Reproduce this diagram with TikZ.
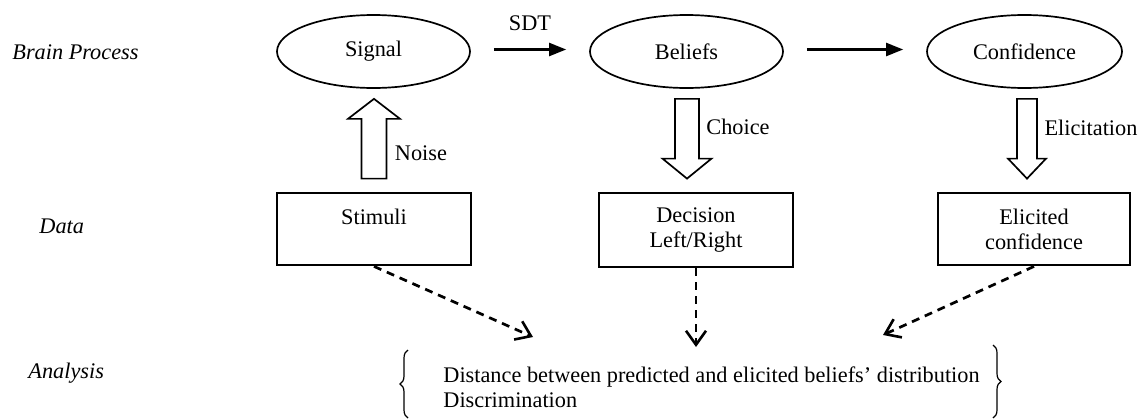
\documentclass[tikz,border=0pt]{standalone}
\usepackage{fontspec}
\setmainfont{Liberation Serif}
\usetikzlibrary{arrows.meta,calc,decorations.pathreplacing,shapes.geometric}
\begin{document}
\begin{tikzpicture}[x=0.5pt,y=-0.5pt,
  every node/.style={font=\fontsize{11.15}{12.5}\selectfont, inner sep=0pt},
  proc/.style={draw, ellipse, line width=0.85pt, minimum width=96.5pt, minimum height=36.5pt},
  databox/.style={draw, rectangle, line width=1.4pt, minimum width=97pt, minimum height=36pt, align=center},
  rowlabel/.style={anchor=west, font=\fontsize{11.15}{12.5}\selectfont\itshape},
  solidarrow/.style={line width=1.1pt, -{Triangle[length=8.5pt,width=6.5pt]}, shorten <=11.5pt, shorten >=11.5pt},
  dasharrow/.style={line width=1.35pt, dash pattern=on 4pt off 3pt, -{Straight Barb[length=7pt,width=10pt,line width=1.3pt]}},
  blk/.style={draw, line width=0.85pt, fill=white, line join=miter},
  brc/.style={decorate, decoration={brace, amplitude=4pt}, line width=0.6pt}
]
\useasboundingbox (0,0) rectangle (1141,418);

% row labels
\node[rowlabel] (lbrain) at (12,52) {Brain Process};
\node[rowlabel] (ldata) at (39,226) {Data};
\node[rowlabel] (lana) at (28,373) {Analysis};

% brain process
\node[proc] (sig) at (373.5,51.5) {Signal};
\node[proc] (bel) at (686.5,51.5) {Beliefs};
\node[proc, minimum width=97.5pt] (conf) at (1024.5,51.5) {Confidence};

\draw[solidarrow] ($(sig.east)+(0,-2)$) -- ($(bel.west)+(0,-2)$) node[midway, above=9pt] (sdt) {SDT};
\draw[solidarrow] ($(bel.east)+(0,-2)$) -- ($(conf.west)+(0,-2)$);

% data
\node[databox] (stim) at (374,229) {Stimuli\\\mbox{}};
\node[databox, minimum height=37pt] (dec) at (696,230) {Decision\\Left/Right};
\node[databox, minimum width=96pt] (eli) at (1034,229) {Elicited\\confidence};

% block arrows
\coordinate (n1) at ($(sig.south)+(0.5,10)$);
\coordinate (n0) at ($(n1 |- stim.north)+(0,-13)$);
\draw[blk] ($(n0)+(-12.5,0)$) -- ($(n1)+(-12.5,20)$) -- ($(n1)+(-26,20)$) -- (n1)
  -- ($(n1)+(26,20)$) -- ($(n1)+(12.5,20)$) -- ($(n0)+(12.5,0)$) -- cycle;
\node (noise) at (421,153) {Noise};

\coordinate (c0) at ($(bel.south)+(0.5,10)$);
\coordinate (c1) at ($(c0 |- dec.north)+(0,-13)$);
\draw[blk] ($(c0)+(-12,0)$) -- ($(c1)+(-12,-20)$) -- ($(c1)+(-24.5,-20)$) -- (c1)
  -- ($(c1)+(24.5,-20)$) -- ($(c1)+(12,-20)$) -- ($(c0)+(12,0)$) -- cycle;
\node (choice) at (738,127) {Choice};

\coordinate (e0) at ($(conf.south)+(2.5,10)$);
\coordinate (e1) at ($(e0 |- eli.north)+(0,-13)$);
\draw[blk] ($(e0)+(-10,0)$) -- ($(e1)+(-10,-20)$) -- ($(e1)+(-19,-20)$) -- (e1)
  -- ($(e1)+(19,-20)$) -- ($(e1)+(10,-20)$) -- ($(e0)+(10,0)$) -- cycle;
\node (elic) at (1091,128) {Elicitation};

% analysis
\node[anchor=west, align=left] (ana) at (443,387.5) {Distance between predicted and elicited beliefs’ distribution\\Discrimination};
\draw[brc] (408,418) -- (408,350);
\draw[brc] (993,345) -- (993,418);

\coordinate (a1) at (533,337);
\coordinate (a2) at (696,347);
\coordinate (a3) at (883,335);
\draw[dasharrow] (stim.south) -- (a1);
\draw[dasharrow] (dec.south) -- (a2);
\draw[dasharrow] (eli.south) -- (a3);
\end{tikzpicture}
\end{document}
